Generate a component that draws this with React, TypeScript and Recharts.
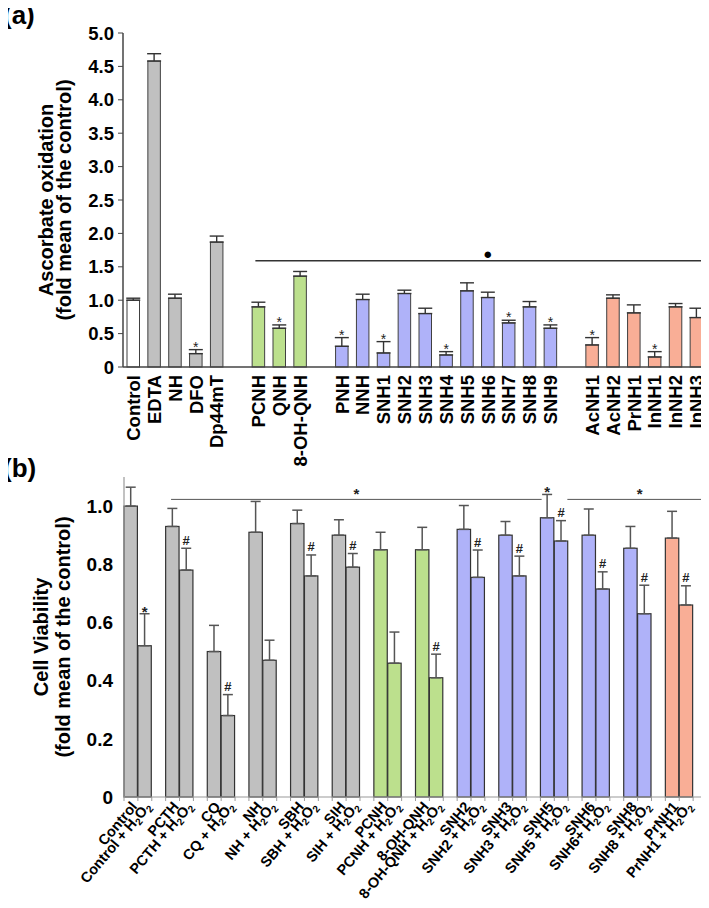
import React from 'react';
import { BarChart, Bar, XAxis, YAxis, ErrorBar, ReferenceLine } from 'recharts';

const FONT = '"Liberation Sans", Arial, Helvetica, sans-serif';

// ---- (a) ascorbate oxidation; '' marks an empty slot between compound classes
const aNames = [
  'Control', 'EDTA', 'NH', 'DFO', 'Dp44mT', '',
  'PCNH', 'QNH', '8-OH-QNH', '',
  'PNH', 'NNH', 'SNH1', 'SNH2', 'SNH3', 'SNH4', 'SNH5', 'SNH6', 'SNH7', 'SNH8', 'SNH9', '',
  'AcNH1', 'AcNH2', 'PrNH1', 'InNH1', 'InNH2', 'InNH3',
];
const aValues = [
  1.0, 4.58, 1.03, 0.2, 1.87, null,
  0.9, 0.58, 1.36, null,
  0.31, 1.01, 0.21, 1.1, 0.8, 0.18, 1.14, 1.04, 0.66, 0.9, 0.58, null,
  0.33, 1.03, 0.81, 0.15, 0.9, 0.74,
];
const aErrors = [
  0.03, 0.11, 0.06, 0.06, 0.09, null,
  0.07, 0.05, 0.07, null,
  0.13, 0.08, 0.17, 0.05, 0.08, 0.05, 0.12, 0.08, 0.04, 0.08, 0.05, null,
  0.11, 0.05, 0.12, 0.08, 0.05, 0.14,
];
const aMarks = [
  '', '', '', '*', '', '',
  '', '*', '', '',
  '*', '', '*', '', '', '*', '', '', '*', '', '*', '',
  '*', '', '', '*', '', '',
];
const aKinds = [
  'ctrl', 'ref', 'ref', 'ref', 'ref', '',
  'pc', 'pc', 'pc', '',
  'sal', 'sal', 'sal', 'sal', 'sal', 'sal', 'sal', 'sal', 'sal', 'sal', 'sal', '',
  'ac', 'ac', 'ac', 'ac', 'ac', 'ac',
];
const aTicks = [0, 0.5, 1, 1.5, 2, 2.5, 3, 3.5, 4, 4.5, 5];
// significance bar over the chelators (slot units, value)
const aSigLine = { from: 6.12, to: 27.62, y: 1.59 };

// ---- (b) cell viability, each compound alone and with H2O2
const bNames = [
  'Control', 'Control + H2O2', 'PCTH', 'PCTH + H2O2', 'CQ', 'CQ + H2O2',
  'NH', 'NH + H2O2', 'SBH', 'SBH + H2O2', 'SIH', 'SIH + H2O2',
  'PCNH', 'PCNH + H2O2', '8-OH-QNH', '8-OH-QNH + H2O2',
  'SNH2', 'SNH2 + H2O2', 'SNH3', 'SNH3 + H2O2', 'SNH5', 'SNH5 + H2O2',
  'SNH6', 'SNH6+ H2O2', 'SNH8', 'SNH8 + H2O2', 'PrNH1', 'PrNH1 + H2O2',
];
const bValues = [
  1.0, 0.52, 0.93, 0.78, 0.5, 0.28,
  0.91, 0.47, 0.94, 0.76, 0.9, 0.79,
  0.85, 0.46, 0.85, 0.41,
  0.92, 0.755, 0.9, 0.76, 0.96, 0.88,
  0.9, 0.715, 0.855, 0.63, 0.89, 0.66,
];
const bErrors = [
  0.065, 0.11, 0.062, 0.075, 0.09, 0.072,
  0.106, 0.069, 0.046, 0.072, 0.053, 0.047,
  0.06, 0.107, 0.077, 0.081,
  0.082, 0.094, 0.047, 0.068, 0.08, 0.07,
  0.09, 0.059, 0.075, 0.098, 0.092, 0.066,
];
const bMarks = [
  '', '*', '', '#', '', '#',
  '', '', '', '#', '', '#',
  '', '', '', '#',
  '', '#', '', '#', '*', '#',
  '', '#', '', '#', '', '#',
];
const bGroupKinds = ['ref', 'ref', 'ref', 'ref', 'ref', 'ref', 'pc', 'pc', 'sal', 'sal', 'sal', 'sal', 'sal', 'ac'];
const bTicks = [0, 0.2, 0.4, 0.6, 0.8, 1.0];
const bSigLines = [
  { from: 3.31, to: 29.37, y: 1.023 },
  { from: 31.18, to: 41.34, y: 1.023 },
];

const fills: Record<string, string> = {
  ctrl: '#ffffff',
  ref: '#c0c0c0',
  pc: '#bce08d',
  sal: '#afb2f9',
  ac: '#f9ae96',
};

const aData = aNames.map((name, i) => ({
  name,
  value: aValues[i],
  err: aErrors[i] == null ? null : [0, aErrors[i]],
  mark: aMarks[i],
  kind: aKinds[i],
}));

const bData: any[] = [];
bGroupKinds.forEach((kind, g) => {
  for (let k = 0; k < 2; k++) {
    const i = g * 2 + k;
    bData.push({ name: bNames[i], value: bValues[i], err: [0, bErrors[i]], mark: bMarks[i], kind });
  }
  bData.push({ name: '', value: null, err: null, mark: '', kind: '' });
});

const fmt = (v: number) => (v === 0 ? '0' : v.toFixed(1));

// H2O2 with real subscripts
const withSubscripts = (name: string) => {
  const idx = name.indexOf('H2O2');
  if (idx < 0) return name;
  return [
    name.slice(0, idx) + 'H',
    <tspan key="s1" dy={3} fontSize={10}>2</tspan>,
    <tspan key="o" dy={-3}>O</tspan>,
    <tspan key="s2" dy={3} fontSize={10}>2</tspan>,
  ];
};

const ATick = (props: any) => {
  const { x, y, payload } = props;
  if (!payload.value) return <g />;
  return (
    <text
      transform={`translate(${x + 6.5},${y + 8}) rotate(-90)`}
      textAnchor="end"
      fontSize={18.5}
      fontWeight="bold"
      fontFamily={FONT}
      fill="#000"
    >
      {payload.value}
    </text>
  );
};

const B_BAND = 583 / 42;

const BTick = (props: any) => {
  const { x, y, payload, index } = props;
  const left = x - B_BAND / 2;
  return (
    <g>
      <line x1={left} x2={left} y1={y} y2={y + 4} stroke="#999" />
      {index === 41 && <line x1={x + B_BAND / 2} x2={x + B_BAND / 2} y1={y} y2={y + 4} stroke="#999" />}
      {payload.value ? (
        <text
          transform={`translate(${x + 7},${y + 10}) rotate(-50)`}
          textAnchor="end"
          fontSize={14.5}
          fontWeight="bold"
          fontFamily={FONT}
          fill="#000"
        >
          {withSubscripts(payload.value)}
        </text>
      ) : null}
    </g>
  );
};

const YTitle = ({ lines, xs, cy }: any) => (
  <g>
    {lines.map((l: string, i: number) => (
      <text
        key={i}
        transform={`translate(${xs[i]},${cy}) rotate(-90)`}
        textAnchor="middle"
        fontSize={20}
        fontWeight="bold"
        fontFamily={FONT}
        fill="#000"
      >
        {l}
      </text>
    ))}
  </g>
);

const AShape = (props: any) => {
  const { x, y, width, height, payload } = props;
  if (payload.value == null || !height) return <g />;
  const perUnit = height / payload.value;
  const capY = y - (payload.err ? payload.err[1] : 0) * perUnit;
  return (
    <g>
      <rect x={x} y={y} width={width} height={height} fill={fills[payload.kind]} stroke="#404040" strokeWidth={1} />
      {payload.mark && (
        <text x={x + width / 2} y={capY + 2} textAnchor="middle" fontSize={14} fontFamily={FONT} fill="#222">
          {payload.mark}
        </text>
      )}
    </g>
  );
};

const BShape = (props: any) => {
  const { x, y, width, height, payload } = props;
  if (payload.value == null || !height) return <g />;
  const perUnit = height / payload.value;
  const capY = y - payload.err[1] * perUnit;
  const star = payload.mark === '*';
  return (
    <g>
      <rect x={x} y={y} width={width} height={height} fill={fills[payload.kind]} stroke="#333" strokeWidth={1.2} />
      {payload.mark && (
        <text
          x={x + width / 2}
          y={star ? capY + 3 : capY - 3.5}
          textAnchor="middle"
          fontSize={star ? 15 : 13}
          fontWeight="bold"
          fontFamily={FONT}
          fill="#222"
        >
          {payload.mark}
        </text>
      )}
    </g>
  );
};

const PanelLabel = ({ text, top }: { text: string; top: number }) => (
  <div
    style={{
      position: 'absolute',
      left: 3,
      top,
      zIndex: 2,
      fontFamily: FONT,
      fontWeight: 'bold',
      fontSize: 26,
      lineHeight: '26px',
      whiteSpace: 'nowrap',
    }}
  >
    {text}
  </div>
);

export default function App() {
  return (
    <div style={{ position: 'relative', width: 709, marginLeft: -8, fontFamily: FONT }}>
      <style>{'body{overflow:hidden}'}</style>
      <PanelLabel text="(a)" top={-6} />
      <PanelLabel text="(b)" top={447} />

      <div style={{ marginLeft: 8 }}>
        <BarChart width={701} height={460} data={aData} margin={{ top: 25, right: 2, bottom: 0, left: 0 }}>
          <XAxis
            dataKey="name"
            interval={0}
            height={101}
            tickSize={0}
            tickMargin={0}
            tickLine={false}
            axisLine={{ stroke: '#444', strokeWidth: 1.5 }}
            tick={<ATick />}
          />
          <XAxis xAxisId="n" type="number" domain={[0, 28]} hide allowDataOverflow />
          <YAxis
            domain={[0, 5]}
            ticks={aTicks}
            tickFormatter={fmt}
            width={115}
            interval={0}
            axisLine={{ stroke: '#444', strokeWidth: 1.5 }}
            tickLine={{ stroke: '#444' }}
            tickSize={5}
            tickMargin={4}
            tick={{ fontSize: 18.5, fontWeight: 'bold', fill: '#000', fontFamily: FONT }}
            label={<YTitle lines={['Ascorbate oxidation', '(fold mean of the control)']} xs={[45, 63]} cy={192} />}
          />
          <Bar dataKey="value" barSize={12.5} shape={<AShape />} isAnimationActive={false}>
            <ErrorBar dataKey="err" width={7} stroke="#333" strokeWidth={1.4} direction="y" />
          </Bar>
          <ReferenceLine
            xAxisId="n"
            segment={[{ x: aSigLine.from, y: aSigLine.y }, { x: aSigLine.to, y: aSigLine.y }]}
            stroke="#333"
            strokeWidth={1.5}
            ifOverflow="visible"
            label={{ value: '●', position: 'top', offset: 2, fontSize: 15, fill: '#000' }}
          />
        </BarChart>

        <BarChart
          width={701}
          height={440}
          data={bData}
          barCategoryGap={0}
          margin={{ top: 9, right: 2, bottom: 0, left: 0 }}
        >
          <XAxis
            dataKey="name"
            interval={0}
            height={111}
            tickSize={0}
            tickMargin={0}
            tickLine={false}
            axisLine={{ stroke: '#999', strokeWidth: 1.2 }}
            tick={<BTick />}
          />
          <XAxis xAxisId="n" type="number" domain={[0, 42]} hide allowDataOverflow />
          <YAxis
            domain={[0, 1.1]}
            ticks={bTicks}
            tickFormatter={fmt}
            width={116}
            interval={0}
            axisLine={{ stroke: '#999', strokeWidth: 1.2 }}
            tickLine={false}
            tickSize={0}
            tickMargin={11}
            tick={{ fontSize: 19, fontWeight: 'bold', fill: '#000', fontFamily: FONT }}
            label={<YTitle lines={['Cell Viability', '(fold mean of the control)']} xs={[40, 62]} cy={169} />}
          />
          <Bar dataKey="value" barSize={13.4} shape={<BShape />} isAnimationActive={false}>
            <ErrorBar dataKey="err" width={5} stroke="#555" strokeWidth={1.5} direction="y" />
          </Bar>
          {bSigLines.map((s, i) => (
            <ReferenceLine
              key={i}
              xAxisId="n"
              segment={[{ x: s.from, y: s.y }, { x: s.to, y: s.y }]}
              stroke="#555"
              strokeWidth={1}
              ifOverflow="visible"
              label={{ value: '*', position: 'top', offset: 0, fontSize: 15, fontWeight: 'bold', fill: '#222' }}
            />
          ))}
        </BarChart>
      </div>
    </div>
  );
}
